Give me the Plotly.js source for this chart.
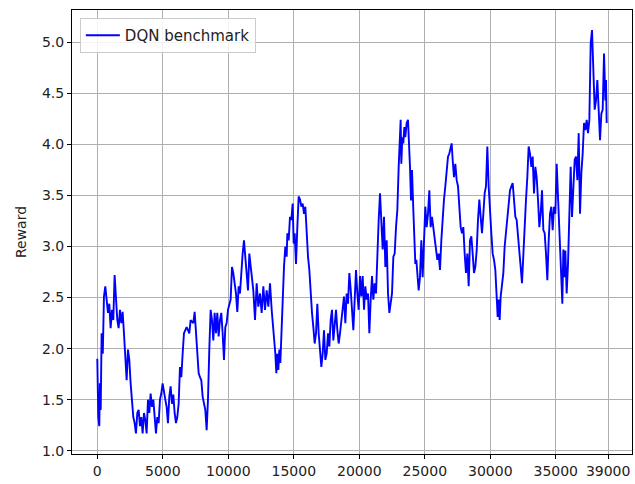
<!DOCTYPE html>
<html>
<head>
<meta charset="utf-8">
<script src="https://cdn.plot.ly/plotly-3.0.1.min.js"></script>
<style>html,body{margin:0;padding:0;background:#fff;}#chart{width:635px;height:484px;}</style>
</head>
<body>
<div id="chart"></div>
<script>
var seriesName = "DQN benchmark";
var steps = [0,76,153,200,260,330,420,509,611,713,815,916,1018,1120,1222,1323,1425,1527,1629,1730,1832,1934,2036,2138,2240,2341,2443,2545,2647,2749,2850,2952,3054,3156,3258,3360,3461,3563,3665,3767,3869,3970,4072,4174,4276,4378,4479,4581,4683,4785,4886,4988,5090,5192,5294,5395,5497,5599,5701,5803,5904,6006,6108,6210,6312,6413,6515,6617,6719,6821,6922,7024,7126,7330,7432,7533,7635,7737,7839,7941,8042,8144,8246,8348,8449,8551,8653,8755,8857,8958,9060,9162,9264,9366,9467,9569,9671,9773,9875,9976,10078,10180,10282,10384,10485,10587,10689,10791,10893,10995,11096,11198,11300,11402,11504,11605,11707,11809,11911,12040,12166,12294,12421,12548,12676,12803,12930,13058,13185,13312,13388,13490,13592,13668,13745,13821,13898,13974,14050,14152,14253,14355,14457,14508,14610,14712,14813,14915,14991,15068,15170,15271,15373,15475,15577,15679,15781,15882,15984,16086,16188,16289,16391,16493,16595,16697,16798,16900,17002,17104,17206,17307,17409,17511,17613,17715,17816,17918,18020,18122,18224,18326,18427,18529,18631,18733,18834,18936,19038,19140,19242,19344,19445,19547,19649,19751,19853,19954,20056,20158,20260,20362,20463,20565,20667,20769,20870,20972,21074,21176,21278,21379,21481,21583,21685,21787,21888,21990,22092,22194,22296,22397,22499,22601,22703,22805,22906,23008,23110,23159,23210,23286,23362,23439,23515,23617,23719,23795,23872,23948,24024,24126,24202,24279,24355,24457,24533,24635,24737,24839,24940,25042,25144,25246,25348,25449,25551,25653,25755,25857,25958,26060,26162,26264,26365,26467,26569,26671,26773,26874,26976,27053,27129,27231,27333,27435,27537,27638,27740,27842,27944,28045,28147,28249,28351,28453,28554,28656,28758,28860,28962,29063,29165,29267,29369,29471,29572,29674,29776,29878,29980,30081,30183,30285,30387,30489,30565,30641,30718,30794,30895,30997,31099,31201,31303,31404,31506,31608,31710,31812,31913,32015,32117,32219,32321,32422,32524,32626,32728,32830,32931,33033,33135,33237,33339,33440,33542,33644,33746,33848,33950,34052,34153,34255,34357,34459,34561,34662,34764,34866,34968,35070,35171,35273,35350,35426,35502,35579,35655,35732,35833,35935,36037,36139,36241,36343,36444,36546,36648,36750,36852,36953,37055,37157,37258,37360,37462,37564,37666,37767,37869,37971,38072,38174,38276,38378,38480,38582,38684,38785,38836,38887];
var reward = [1.90,1.33,1.24,1.66,1.40,2.15,1.95,2.51,2.61,2.44,2.35,2.44,2.20,2.38,2.28,2.72,2.48,2.28,2.20,2.38,2.25,2.36,2.15,1.95,1.69,1.99,1.89,1.66,1.46,1.33,1.27,1.17,1.37,1.40,1.24,1.33,1.17,1.37,1.30,1.17,1.50,1.37,1.56,1.43,1.50,1.33,1.17,1.33,1.27,1.50,1.56,1.66,1.56,1.50,1.43,1.27,1.53,1.63,1.46,1.55,1.37,1.27,1.33,1.46,1.82,1.72,1.95,2.15,2.18,2.21,2.18,2.15,2.28,2.25,2.36,2.15,1.89,1.76,1.72,1.69,1.53,1.46,1.40,1.20,1.50,1.99,2.38,2.28,2.08,2.35,2.15,2.35,2.12,2.28,2.35,2.15,1.89,2.21,2.25,2.38,2.44,2.48,2.80,2.74,2.64,2.54,2.36,2.61,2.54,2.80,2.93,3.06,2.90,2.67,2.57,2.93,2.80,2.67,2.57,2.28,2.64,2.41,2.54,2.35,2.61,2.38,2.57,2.41,2.64,2.38,2.28,2.15,1.95,1.76,1.95,1.79,1.99,1.86,2.15,2.48,2.80,3.00,2.90,3.13,3.06,3.29,3.26,3.42,3.03,3.13,2.83,3.19,3.49,3.46,3.39,3.42,3.32,3.39,3.13,2.90,2.77,2.54,2.35,2.21,2.05,2.15,2.44,2.15,1.99,1.82,1.95,2.18,1.89,1.95,2.15,2.02,2.28,2.38,2.08,2.28,2.38,2.18,2.05,2.15,2.28,2.41,2.51,2.25,2.54,2.44,2.74,2.58,2.35,2.18,2.48,2.77,2.54,2.38,2.71,2.51,2.71,2.38,2.61,2.48,2.54,2.15,2.48,2.71,2.48,2.64,2.54,3.03,3.26,3.52,3.29,2.97,3.29,2.80,3.06,2.54,2.35,2.44,2.54,2.90,2.93,3.19,3.36,3.78,4.01,4.24,3.81,4.07,4.01,4.17,4.07,4.21,4.24,4.04,3.78,3.45,3.75,3.36,3.06,2.83,2.87,2.70,2.57,2.70,3.06,2.70,3.10,3.39,3.19,3.32,3.55,3.19,3.29,3.19,3.06,2.96,2.87,2.93,2.77,3.06,3.32,3.46,3.59,3.78,3.88,3.91,3.98,4.01,3.85,3.68,3.81,3.65,3.59,3.39,3.19,3.13,3.19,2.93,2.74,2.93,2.61,3.06,3.10,2.93,2.74,2.80,2.96,3.26,3.46,3.29,3.13,3.32,3.52,3.59,3.98,3.59,3.29,3.13,2.93,2.87,2.77,2.54,2.31,2.48,2.28,2.51,2.61,2.74,3.00,3.13,3.32,3.46,3.55,3.59,3.62,3.46,3.29,3.26,3.13,2.93,2.80,2.64,2.96,3.13,3.46,3.68,3.98,3.91,3.78,3.88,3.52,3.78,3.68,3.46,3.19,3.32,3.55,3.16,3.13,2.93,2.67,3.06,3.32,3.39,3.16,3.39,3.32,3.81,3.46,3.19,2.87,2.61,2.44,2.97,2.70,2.96,2.54,2.83,3.32,3.78,3.29,3.62,3.85,3.88,3.65,4.11,3.32,3.72,3.91,4.21,4.14,4.24,4.11,4.24,4.99,5.12,4.76,4.34,4.43,4.63,4.34,4.04,4.30,4.34,4.89,4.43,4.63,4.21];
var xTickVals = [0,5000,10000,15000,20000,25000,30000,35000,39000];
var xTickText = ["0","5000","10000","15000","20000","25000","30000","35000","39000"];
var yTickVals = [1.0,1.5,2.0,2.5,3.0,3.5,4.0,4.5,5.0];
var yTitle = "Reward";

var trace = {
  x: steps, y: reward, type: 'scatter', mode: 'lines', name: seriesName,
  line: {color: '#0000ff', width: 1.9}
};
var axisCommon = {
  showline: true, linecolor: '#000', linewidth: 1, mirror: true,
  ticks: 'outside', ticklen: 4, tickcolor: '#000', tickwidth: 1,
  showgrid: true, gridcolor: '#b0b0b0', gridwidth: 1, zeroline: false,
  tickfont: {family: 'DejaVu Sans', size: 14, color: '#222'}
};
var layout = {
  width: 635, height: 484,
  margin: {l: 72, r: 3, t: 10, b: 30},
  paper_bgcolor: '#fff', plot_bgcolor: '#fff',
  showlegend: true,
  legend: {x: 0.014, y: 0.982, xanchor: 'left', yanchor: 'top', itemwidth: 34,
    bgcolor: 'rgba(255,255,255,0.85)', bordercolor: '#cccccc', borderwidth: 1,
    font: {family: 'DejaVu Sans', size: 15, color: '#222'}},
  xaxis: Object.assign({}, axisCommon, {range: [-1931, 40820], tickmode: 'array', tickvals: xTickVals, ticktext: xTickText}),
  yaxis: Object.assign({}, axisCommon, {range: [0.968, 5.316], tickmode: 'array', tickvals: yTickVals, tickformat: '.1f',
    title: {text: yTitle, font: {family: 'DejaVu Sans', size: 14, color: '#222'}, standoff: 12}})
};
Plotly.newPlot('chart', [trace], layout, {displayModeBar: false, staticPlot: true});
</script>
</body>
</html>
